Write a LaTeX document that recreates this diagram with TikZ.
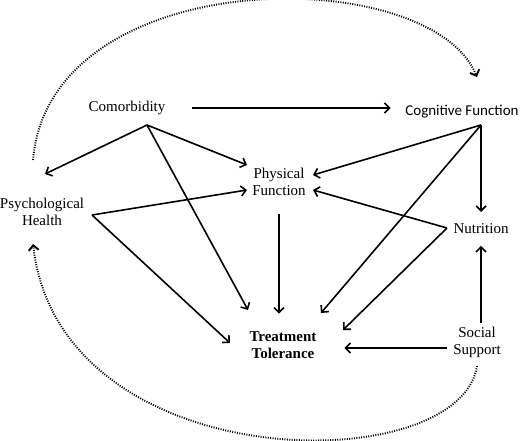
\documentclass[tikz,border=0pt]{standalone}
\usepackage{fontspec}
\setmainfont{Liberation Serif}
\newfontfamily\cognfont{Carlito}
\usetikzlibrary{arrows.meta}

\begin{document}
\begin{tikzpicture}[x=1pt, y=-1pt, line width=1.6pt,
    >={Straight Barb[length=5pt,width=10pt]},
    every node/.style={font=\fontsize{15}{17}\selectfont, align=center, inner sep=0pt},
    loop/.style={->, line width=1.9pt, dash pattern=on 1pt off 1.4pt}]

    \useasboundingbox (0,0) rectangle (520,441);

    \node (co) at (127,108) {Comorbidity};
    \node (cf) at (462,112) {\cognfont Cognitive Function};
    \node (pf) at (279,182) {Physical\\Function};
    \node (ph) at (42,212) {Psychological\\Health};
    \node (nu) at (481,229) {Nutrition};
    \node [font=\fontsize{15}{17}\selectfont\bfseries] (tt) at (283,345) {Treatment\\Tolerance};
    \node (ss) at (477,342) {Social\\Support};

    % fan points
    \coordinate (co-s) at (147,125);
    \coordinate (cf-s) at (481,125);
    \coordinate (ph-e) at (92,215);
    \coordinate (nu-w) at (447,228);
    \coordinate (ph-n) at (45,174);
    \coordinate (pf-nw) at (247,165);
    \coordinate (pf-w) at (247,190);
    \coordinate (pf-ne) at (313,175);
    \coordinate (pf-e) at (313,190);
    \coordinate (nu-n) at (481,212);
    \coordinate (tt-a) at (230,343);
    \coordinate (tt-b) at (248,310);
    \coordinate (tt-c) at (321,313);
    \coordinate (tt-d) at (343,330);
    \coordinate (ph-t) at (33,160);
    \coordinate (ph-b) at (33,244);
    \coordinate (cf-t) at (477,77);
    \coordinate (ss-b) at (477,366);

    \draw [->, shorten <=26pt, shorten >=14pt] (co.east) to (co.east -| cf.west);
    \draw [->] (co-s) to (ph-n);
    \draw [->] (co-s) to (pf-nw);
    \draw [->] (co-s) to (tt-b);
    \draw [->] (cf-s) to (pf-ne);
    \draw [->] (cf-s) to (nu-n);
    \draw [->] (cf-s) to (tt-c);
    \draw [->] (ph-e) to (pf-w);
    \draw [->] (ph-e) to (tt-a);
    \draw [->] (nu-w) to (pf-e);
    \draw [->] (nu-w) to (tt-d);
    \draw [->, shorten <=17pt, shorten >=17pt] (pf.south) to (pf.south |- tt.north);
    \draw [->, shorten <=3pt, shorten >=11pt] (nu.south |- ss.north) to (nu.south);
    \draw [->, shorten <=5pt, shorten >=27pt] ([yshift=-6pt]ss.west) to ([yshift=-6pt]ss.west -| tt.east);

    % dotted loops
    \draw [loop] (ph-t) .. controls (50,-38) and (430,-38) .. (cf-t);
    \draw [loop] (ss-b) .. controls (460,480) and (60,480) .. (ph-b);

\end{tikzpicture}
\end{document}
